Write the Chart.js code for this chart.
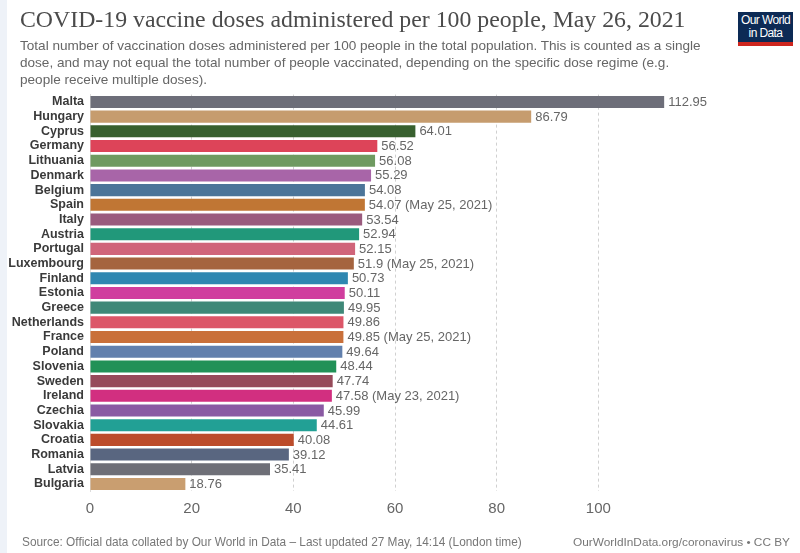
<!DOCTYPE html>
<html>
<head>
<meta charset="utf-8">
<script src="https://cdn.jsdelivr.net/npm/chart.js@4/dist/chart.umd.min.js"></script>
<style>
  html,body{margin:0;padding:0;background:#fff;}
  #wrap{position:relative;width:800px;height:553px;overflow:hidden;background:#fff;}
  #strip{position:absolute;left:0;top:0;width:7px;height:553px;background:#eef2f8;}
  #c{position:absolute;left:0;top:0;}
  .t{position:absolute;white-space:nowrap;}
  #title{left:20px;top:6px;font-family:"Liberation Serif","DejaVu Serif",serif;font-size:24px;color:#4b4b4b;}
  #sub{left:20px;top:37px;font-family:"Liberation Sans",Arial,sans-serif;font-size:14px;line-height:17px;color:#666;}
  #src{left:22px;top:535px;font-family:"Liberation Sans",Arial,sans-serif;font-size:13px;color:#777;}
  #url{right:10px;top:535px;font-family:"Liberation Sans",Arial,sans-serif;font-size:13px;color:#777;}
  #logo{position:absolute;left:738px;top:12px;width:55px;height:28px;background:#0c2a55;border-bottom:4px solid #ce261e;color:#fff;
        font-family:"Liberation Sans",Arial,sans-serif;font-size:12px;line-height:12.5px;text-align:center;padding-top:2px;box-sizing:content-box;letter-spacing:-0.6px;}
</style>
</head>
<body>
<div id="wrap">
  <div id="strip"></div>
  <canvas id="c" width="800" height="553"></canvas>
  <div class="t" id="title">COVID-19 vaccine doses administered per 100 people, May 26, 2021</div>
  <div class="t" id="sub"><span id="s1">Total number of vaccination doses administered per 100 people in the total population. This is counted as a single</span><br>dose, and may not equal the total number of people vaccinated, depending on the specific dose regime (e.g.<br>people receive multiple doses).</div>
  <div class="t" id="src">Source: Official data collated by Our World in Data – Last updated 27 May, 14:14 (London time)</div>
  <div class="t" id="url">OurWorldInData.org/coronavirus • CC BY</div>
  <div id="logo">Our World<br>in Data</div>
</div>
<script>
const countries = ["Malta","Hungary","Cyprus","Germany","Lithuania","Denmark","Belgium","Spain","Italy","Austria","Portugal","Luxembourg","Finland","Estonia","Greece","Netherlands","France","Poland","Slovenia","Sweden","Ireland","Czechia","Slovakia","Croatia","Romania","Latvia","Bulgaria"];
const doses = [112.95,86.79,64.01,56.52,56.08,55.29,54.08,54.07,53.54,52.94,52.15,51.9,50.73,50.11,49.95,49.86,49.85,49.64,48.44,47.74,47.58,45.99,44.61,40.08,39.12,35.41,18.76];
const notes = ["","","","","","","","(May 25, 2021)","","","","(May 25, 2021)","","","","","(May 25, 2021)","","","","(May 23, 2021)","","","","","",""];
const barColors = ["#6d6e79","#c69c6e","#38602f","#dd4459","#6f9a61","#a865a8","#4c7599","#c07634","#9a5b7e","#21987a","#d0657a","#a5643f","#2f87b1","#d03e9e","#3f8878","#dc5668","#c9703a","#6280ad","#219157","#964a5a","#d22f80","#8a5aa3","#22a095","#bc4c2b","#596680","#6e6f77","#c99e70"];
const xTicks = [0,20,40,60,80,100];

function fit(el, target){
  const w = el.getBoundingClientRect().width;
  const fs = parseFloat(getComputedStyle(el).fontSize);
  return fs * target / w;
}
const title = document.getElementById('title');
title.style.fontSize = fit(title, 666) + 'px';
const sub = document.getElementById('sub');
const s1 = document.getElementById('s1');
sub.style.fontSize = fit(s1, 681) + 'px';
const src = document.getElementById('src');
src.style.fontSize = fit(src, 500) + 'px';
const url = document.getElementById('url');
url.style.fontSize = fit(url, 217) + 'px';

const valueLabels = {
  id: 'valueLabels',
  afterDatasetsDraw(chart){
    const ctx = chart.ctx;
    const meta = chart.getDatasetMeta(0);
    ctx.save();
    ctx.font = '13px "Liberation Sans", Arial, sans-serif';
    ctx.fillStyle = '#666';
    ctx.textBaseline = 'middle';
    ctx.textAlign = 'left';
    meta.data.forEach((bar, i) => {
      const txt = String(doses[i]) + (notes[i] ? ' ' + notes[i] : '');
      ctx.fillText(txt, bar.x + 4, bar.y + 0.5);
    });
    ctx.restore();
  }
};

new Chart(document.getElementById('c'), {
  type: 'bar',
  data: {
    labels: countries,
    datasets: [{
      data: doses,
      backgroundColor: barColors,
      borderWidth: 0,
      barPercentage: 0.82,
      categoryPercentage: 1.0
    }]
  },
  options: {
    indexAxis: 'y',
    responsive: false,
    animation: false,
    devicePixelRatio: 1,
    layout: { padding: { top: 94.6, right: 100, left: 0, bottom: 0 } },
    plugins: { legend: { display: false }, tooltip: { enabled: false }, title: { display: false } },
    scales: {
      x: {
        min: 0, max: 120,
        afterFit(scale){ scale.height = 61.7; },
        afterBuildTicks(scale){ scale.ticks = [...xTicks, 120].map(v => ({ value: v })); },
        ticks: {
          padding: 9,
          color: '#666',
          autoSkip: false,
          maxRotation: 0,
          font: { family: '"Liberation Sans", Arial, sans-serif', size: 15 },
          callback: (v) => xTicks.includes(v) ? String(v) : ''
        },
        grid: {
          drawTicks: false,
          color: (c) => (c.tick && (c.tick.value === 0 || c.tick.value === 120)) ? 'rgba(0,0,0,0)' : '#d0d0d0',
          lineWidth: 1
        },
        border: { display: false, dash: [3, 3] }
      },
      y: {
        afterFit(scale){ scale.width = 90; },
        ticks: {
          padding: 6,
          color: '#3a3a3a',
          autoSkip: false,
          font: { family: '"Liberation Sans", Arial, sans-serif', size: 12.5, weight: 'bold' }
        },
        grid: { display: false, drawTicks: false },
        border: { display: true, color: '#dcdcdc' }
      }
    }
  },
  plugins: [valueLabels]
});
</script>
</body>
</html>
